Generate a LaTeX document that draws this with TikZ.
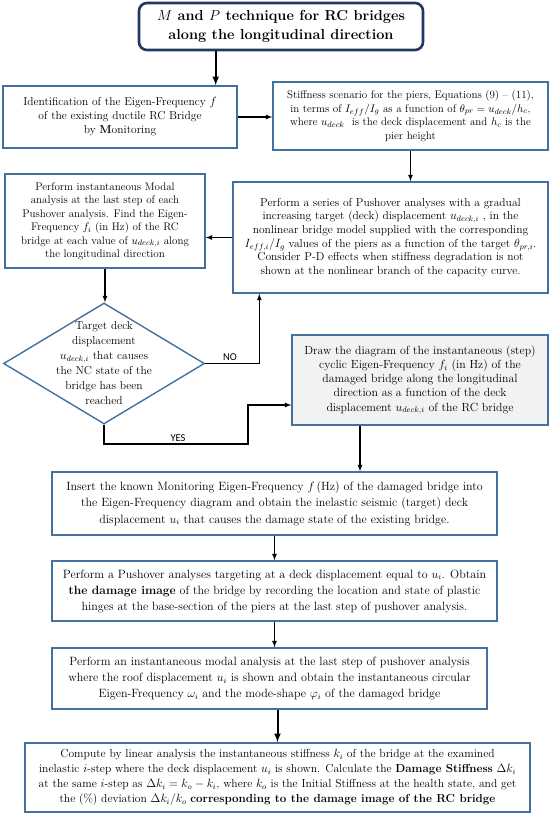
\documentclass[tikz,border=0pt]{standalone}
\usepackage{fontspec}
\usepackage{tikz}
\usetikzlibrary{arrows,shapes.geometric}

\newfontfamily\yesnofont{Carlito}
\newcommand{\boxfont}[2]{\fontsize{#1}{#2}\selectfont}

\definecolor{boxline}{HTML}{41719C}
\definecolor{titleline}{HTML}{1F3864}
\definecolor{greyfill}{HTML}{F2F2F2}

\tikzset{
  box/.style={draw=boxline, line width=1.4pt, fill=white, align=center, inner sep=1pt},
  titlebox/.style={draw=titleline, line width=2.6pt, rounded corners=8pt, align=center,
    font=\bfseries\boxfont{14.5}{19}},
  decision/.style={draw=boxline, line width=1.4pt, diamond, inner sep=0pt},
  arr/.style={->, >=latex, line width=1.2pt},
  bigarr/.style={->, >=latex, line width=2pt},
  yesno/.style={font=\yesnofont\boxfont{10.5}{12}, inner sep=1pt, anchor=south}
}

\begin{document}
\begin{tikzpicture}[x=1pt, y=-1pt]
\useasboundingbox (0,0) rectangle (550,815);

% top part
\node[titlebox, minimum width=284pt, minimum height=47pt] (title) at (281,26.5)
  {$M$ and $P$ technique for RC bridges\\ along the longitudinal direction};
\node[box, minimum width=234pt, minimum height=62pt, font=\boxfont{11.5}{14}] (ident) at (120,117)
  {Identification of the Eigen-Frequency $f$\\ of the existing ductile RC Bridge\\ by \textbf{M}onitoring};
\node[box, minimum width=275pt, minimum height=68pt, font=\boxfont{11}{13.5}] (stiff) at (410.5,116)
  {Stiffness scenario for the piers, Equations (9) -- (11),\\
   in terms of $I_{eff}/I_g$ as a function of $\theta_{pr}=u_{deck}/h_c$,\\
   where $u_{deck}$ \ is the deck displacement and $h_c$ is the\\ pier height};
\node[box, minimum width=315pt, minimum height=111pt, font=\boxfont{11.5}{13.7}] (push) at (390.5,237.5)
  {Perform a series of Pushover analyses with a gradual\\
   increasing target (deck) displacement $u_{deck,i}$ , in the\\
   nonlinear bridge model supplied with the corresponding\\
   $I_{eff,i}/I_g$ values of the piers as a function of the target $\theta_{pr,i}$.\\
   Consider P-D effects when stiffness degradation is not\\
   shown at the nonlinear branch of the capacity curve.};
\node[box, minimum width=200pt, minimum height=94pt, font=\boxfont{11}{13.5}] (modal) at (105,221)
  {Perform instantaneous Modal\\ analysis at the last step of each\\
   Pushover analysis. Find the Eigen-\\ Frequency $f_i$ (in Hz) of the RC\\
   bridge at each value of $u_{deck,i}$ along\\ the longitudinal direction};

% decision
\node[decision, minimum width=201pt, minimum height=121pt] (check) at (104,363.5) {};
\node[align=center, inner sep=0pt, font=\boxfont{11.5}{15}] (checktxt) at (check.center)
  {Target deck\\ displacement\\ $u_{deck,i}$ that causes\\ the NC state of the\\ bridge has been\\ reached};
\node[box, fill=greyfill, minimum width=256pt, minimum height=90pt, font=\boxfont{11.8}{14.2}] (diag) at (420,380)
  {Draw the diagram of the instantaneous (step)\\ cyclic Eigen-Frequency $f_i$ (in Hz) of the\\
   damaged bridge along the longitudinal\\ direction as a function of the deck\\
   displacement $u_{deck,i}$ of the RC bridge};

% lower part
\node[box, minimum width=445pt, minimum height=63pt, font=\boxfont{12}{16.3}] (insert) at (274.5,503.5)
  {Insert the known Monitoring Eigen-Frequency $f$\,(Hz) of the damaged bridge into\\
   the Eigen-Frequency diagram and obtain the inelastic seismic (target) deck\\
   displacement $u_i$ that causes the damage state of the existing bridge.};
\node[box, minimum width=445pt, minimum height=60pt, font=\boxfont{12}{16}] (pushtwo) at (274.5,591)
  {Perform a Pushover analyses targeting at a deck displacement equal to $u_i$. Obtain\\
   \textbf{the damage image} of the bridge by recording the location and state of plastic\\
   hinges at the base-section of the piers at the last step of pushover analysis.};
\node[box, minimum width=435pt, minimum height=61pt, font=\boxfont{12}{16}] (modaltwo) at (269.5,678.5)
  {Perform an instantaneous modal analysis at the last step of pushover analysis\\
   where the roof displacement $u_i$ is shown and obtain the instantaneous circular\\
   Eigen-Frequency $\omega_i$ and the mode-shape $\varphi_i$ of the damaged bridge};
\node[box, minimum width=505pt, minimum height=69pt, font=\boxfont{11.6}{15}] (stiffdmg) at (277.5,777.5)
  {Compute by linear analysis the instantaneous stiffness $k_i$ of the bridge at the examined\\
   inelastic $i$-step where the deck displacement $u_i$ is shown. Calculate the \textbf{Damage Stiffness} $\Delta k_i$\\
   at the same $i$-step as $\Delta k_i=k_o-k_i$, where $k_o$ is the Initial Stiffness at the health state, and get\\
   the (\%) deviation $\Delta k_i/k_o$ \textbf{corresponding to the damage image of the RC bridge}};

% connectors
\coordinate (identin) at ([xshift=-22pt]ident.north east);
\draw[bigarr] (title.south -| identin) -- (identin);
\draw[arr] (ident.east) -- (ident.east -| stiff.west);
\draw[arr] (stiff.south) -- (stiff.south |- push.north);
\draw[arr] (push.west) -- (push.west -| modal.east);
\draw[arr] (modal.south) -- (modal.south |- check.north);
\coordinate (noin) at ([xshift=27pt]push.south west);
\draw[arr] (check.east) -| (noin);
\node[yesno] (nolabel) at (230,362) {NO};
\coordinate (yesturn) at (248,444);
\coordinate (diagin) at ([yshift=-25pt]diag.west);
\draw[arr] (check.south) |- (yesturn) |- (diagin);
\node[yesno] (yeslabel) at (178,443) {YES};
\coordinate (diagout) at ([xshift=-60pt]diag.south);
\draw[arr] (diagout) -- (diagout |- insert.north);
\draw[arr] (insert.south) -- (pushtwo.north);
\draw[arr] (pushtwo.south) -- (pushtwo.south |- modaltwo.north);
\draw[bigarr] (stiffdmg.north |- modaltwo.south) -- (stiffdmg.north);

\end{tikzpicture}
\end{document}
